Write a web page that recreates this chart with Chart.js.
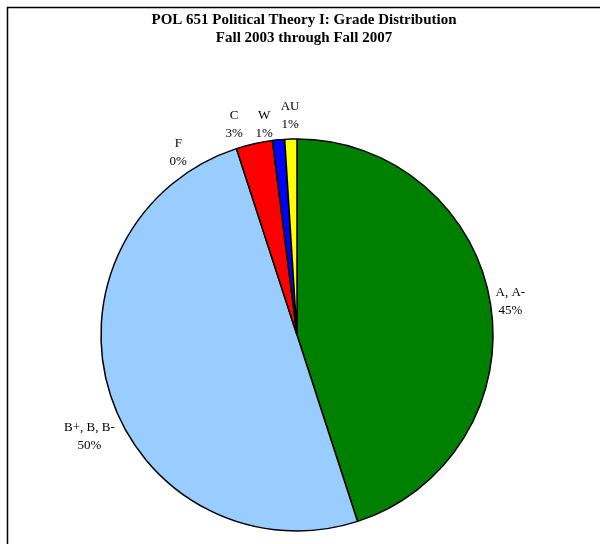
<!DOCTYPE html>
<html>
<head>
<meta charset="utf-8">
<script src="https://cdn.jsdelivr.net/npm/chart.js@4/dist/chart.umd.min.js"></script>
<style>
  html, body { margin: 0; padding: 0; background: #fff; overflow: hidden; }
  #wrap { width: 600px; height: 544px; position: relative; }
</style>
</head>
<body>
<div id="wrap"><canvas id="gradeChart" width="600" height="544"></canvas></div>
<script>
// Grade distribution (percent of students)
const grades = ['A, A-', 'B+, B, B-', 'F', 'C', 'W', 'AU'];
const shares = [45, 50, 0, 3, 1, 1];
const sliceColors = ['#008000', '#99CCFF', '#808080', '#FF0000', '#0000FF', '#FFFF00'];

const titleLines = ['POL 651 Political Theory I: Grade Distribution', 'Fall 2003 through Fall 2007'];

// label placement tweaks: angle shift (deg, clockwise) and distance past the rim
const labelShift = [0, -8, -15, -4, -3.5, 0];
const labelGap = [20, 35, 22, 24, 17, 24];

const serif = '"Liberation Serif", "Times New Roman", serif';

const frameAndLabels = {
    id: 'frameAndLabels',
    beforeDraw(chart) {
        const ctx = chart.ctx;
        ctx.save();
        ctx.fillStyle = '#fff';
        ctx.fillRect(0, 0, chart.width, chart.height);
        // chart frame: only the left and top edges fall inside the canvas
        ctx.strokeStyle = '#000';
        ctx.lineWidth = 1.5;
        ctx.beginPath();
        ctx.moveTo(7.5, chart.height);
        ctx.lineTo(7.5, 7.5);
        ctx.lineTo(chart.width, 7.5);
        ctx.stroke();
        ctx.restore();
    },
    afterDatasetsDraw(chart) {
        const ctx = chart.ctx;
        const meta = chart.getDatasetMeta(0);
        const total = shares.reduce((a, b) => a + b, 0);
        ctx.save();
        ctx.fillStyle = '#000';
        ctx.textAlign = 'center';
        ctx.textBaseline = 'middle';

        // title
        ctx.font = 'bold 15px ' + serif;
        ctx.fillText(titleLines[0], 304, 20);
        ctx.fillText(titleLines[1], 304, 38);

        // slice labels
        ctx.font = '13px ' + serif;
        meta.data.forEach((arc, i) => {
            const p = arc.getProps(['x', 'y', 'startAngle', 'endAngle', 'outerRadius'], true);
            const mid = (p.startAngle + p.endAngle) / 2 + labelShift[i] * Math.PI / 180;
            const r = p.outerRadius + labelGap[i];
            const x = p.x + Math.cos(mid) * r;
            const y = p.y + Math.sin(mid) * r;
            const pct = Math.round(shares[i] / total * 100) + '%';
            ctx.fillText(grades[i], x, y - 9);
            ctx.fillText(pct, x, y + 9);
        });
        ctx.restore();
    }
};

new Chart(document.getElementById('gradeChart'), {
    type: 'pie',
    data: {
        labels: grades,
        datasets: [{
            data: shares,
            backgroundColor: sliceColors,
            borderColor: '#000',
            borderWidth: 1.5
        }]
    },
    options: {
        responsive: false,
        animation: false,
        radius: 196,
        layout: {
            padding: { left: 101, right: 107, top: 139, bottom: 13 }
        },
        plugins: {
            legend: { display: false },
            tooltip: { enabled: false },
            title: { display: false }
        }
    },
    plugins: [frameAndLabels]
});
</script>
</body>
</html>
